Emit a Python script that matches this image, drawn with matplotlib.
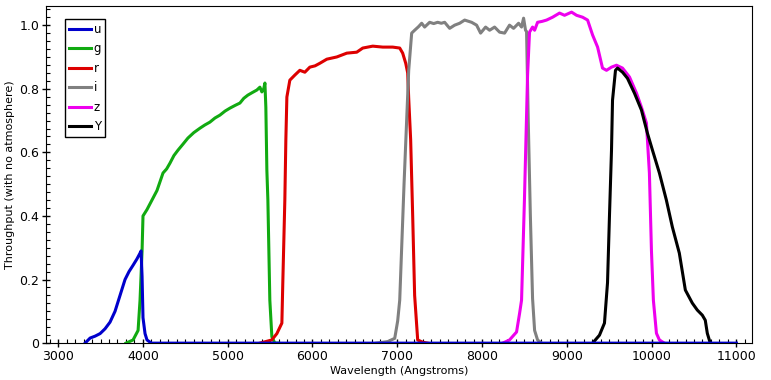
import numpy as np
import matplotlib.pyplot as plt
from matplotlib.ticker import MultipleLocator

# Filter throughput curves (wavelength in Angstroms, throughput with no atmosphere)
u_wave = [3318, 3377, 3436, 3495, 3553, 3612, 3671, 3730, 3789, 3836, 3884, 3930, 3966, 3978,
          3990, 4001, 4025, 4048, 4100, 11000]
u_thru = [0.0, 0.016, 0.022, 0.03, 0.045, 0.066, 0.10, 0.15, 0.20, 0.225, 0.245, 0.265, 0.283, 0.29,
          0.21, 0.08, 0.03, 0.01, 0.0, 0.0]

g_wave = [3800, 3884, 3943, 3966, 3990, 4001, 4048, 4107, 4166, 4237, 4280, 4319, 4366, 4414, 4470,
          4531, 4600, 4673, 4730, 4790, 4850, 4908, 4970, 5026, 5090, 5144, 5190, 5238, 5290, 5344,
          5380, 5403, 5425, 5439, 5450, 5462, 5474, 5485, 5497, 5521, 5556, 5600]
g_thru = [0.0, 0.01, 0.04, 0.135, 0.29, 0.40, 0.42, 0.45, 0.48, 0.535, 0.548, 0.566, 0.59, 0.607, 0.625,
          0.645, 0.662, 0.676, 0.686, 0.695, 0.708, 0.717, 0.73, 0.739, 0.748, 0.755, 0.77, 0.78, 0.788, 0.796,
          0.805, 0.79, 0.80, 0.818, 0.742, 0.544, 0.45, 0.30, 0.135, 0.02, 0.0, 0.0]

r_wave = [5380, 5520, 5580, 5639, 5650, 5674, 5686, 5698, 5733, 5792, 5851, 5910, 5969, 6030, 6086,
          6169, 6287, 6405, 6522, 6593, 6711, 6829, 6946, 7029, 7064, 7100, 7123, 7135, 7158, 7182,
          7205, 7241, 7300, 7359]
r_thru = [0.0, 0.01, 0.03, 0.063, 0.19, 0.45, 0.64, 0.774, 0.827, 0.843, 0.858, 0.852, 0.868, 0.872, 0.88,
          0.893, 0.90, 0.912, 0.915, 0.928, 0.934, 0.931, 0.931, 0.928, 0.912, 0.88, 0.85, 0.77, 0.64, 0.40,
          0.15, 0.01, 0.003, 0.0]

i_wave = [6758, 6888, 6970, 7005, 7029, 7080, 7135, 7170, 7205, 7250, 7288, 7323, 7382, 7430, 7476,
          7520, 7559, 7618, 7677, 7736, 7795, 7877, 7936, 7983, 8042, 8089, 8148, 8207, 8266, 8324,
          8372, 8431, 8466, 8490, 8513, 8525, 8545, 8570, 8596, 8620, 8655, 8702]
i_thru = [0.0, 0.005, 0.015, 0.07, 0.135, 0.50, 0.858, 0.975, 0.984, 0.995, 1.006, 0.994, 1.009, 1.005, 1.009,
          1.006, 1.009, 0.99, 1.0, 1.006, 1.016, 1.009, 1.0, 0.975, 0.994, 0.984, 0.994, 0.978, 0.975, 1.0,
          0.99, 1.006, 0.994, 1.022, 0.984, 0.98, 0.70, 0.40, 0.14, 0.04, 0.01, 0.0]

z_wave = [8243, 8324, 8407, 8443, 8466, 8500, 8537, 8560, 8596, 8620, 8655, 8710, 8761, 8832, 8914,
          8973, 9056, 9115, 9186, 9245, 9304, 9363, 9421, 9468, 9527, 9586, 9657, 9739, 9822, 9880,
          9939, 9951, 9974, 9998, 10021, 10057, 10092, 10151]
z_thru = [0.0, 0.01, 0.035, 0.094, 0.135, 0.45, 0.843, 0.978, 0.994, 0.984, 1.009, 1.012, 1.016, 1.025, 1.038,
          1.031, 1.041, 1.031, 1.025, 1.016, 0.969, 0.931, 0.865, 0.858, 0.868, 0.874, 0.865, 0.837, 0.786, 0.742,
          0.692, 0.638, 0.535, 0.292, 0.135, 0.031, 0.01, 0.0]

y_wave = [9304, 9385, 9444, 9480, 9503, 9527, 9539, 9574, 9598, 9657, 9715, 9798, 9880, 9951, 10010,
          10092, 10174, 10245, 10327, 10398, 10480, 10539, 10598, 10633, 10657, 10692]
y_thru = [0.0, 0.025, 0.063, 0.19, 0.40, 0.607, 0.764, 0.858, 0.865, 0.852, 0.833, 0.786, 0.733, 0.66, 0.607,
          0.535, 0.45, 0.365, 0.283, 0.167, 0.126, 0.104, 0.088, 0.072, 0.031, 0.0]

names = ["u", "g", "r", "i", "z", "Y"]
colors = ["#0000cc", "#11aa11", "#dd0000", "#808080", "#ee00ee", "#000000"]
waves = [u_wave, g_wave, r_wave, i_wave, z_wave, y_wave]
thrus = [u_thru, g_thru, r_thru, i_thru, z_thru, y_thru]

fig = plt.figure(figsize=(7.71, 3.80), dpi=100)
ax = fig.add_axes([0.060, 0.097, 0.916, 0.887])

for k in range(len(names)):
    z = 10 if names[k] == "u" else 2 + k
    ax.plot(waves[k], thrus[k], color=colors[k], lw=2.2, label=names[k], zorder=z)

ax.set_xlim(2860, 11190)
ax.set_ylim(0, 1.06)
ax.xaxis.set_major_locator(MultipleLocator(1000))
ax.xaxis.set_minor_locator(MultipleLocator(100))
ax.yaxis.set_major_locator(MultipleLocator(0.2))
ax.yaxis.set_minor_locator(MultipleLocator(0.025))
ax.set_yticks([0, 0.2, 0.4, 0.6, 0.8, 1.0])
ax.set_yticklabels(["0", "0.2", "0.4", "0.6", "0.8", "1.0"])
ax.tick_params(which="major", direction="inout", length=6, width=1, labelsize=9, pad=2)
ax.tick_params(which="minor", direction="in", length=3, width=0.8)
ax.tick_params(top=False, right=False, which="both")

ax.set_xlabel("Wavelength (Angstroms)", fontsize=8, labelpad=2)
ax.set_ylabel("Throughput (with no atmosphere)", fontsize=8, labelpad=3)

leg = ax.legend(loc="upper left", bbox_to_anchor=(0.027, 0.961), fontsize=8.5,
                handlelength=1.9, handletextpad=0.2, labelspacing=0.55,
                borderpad=0.3, borderaxespad=0, fancybox=False, framealpha=1)
leg.get_frame().set_edgecolor("black")
leg.get_frame().set_linewidth(1)

plt.savefig("out.png", dpi=100)
